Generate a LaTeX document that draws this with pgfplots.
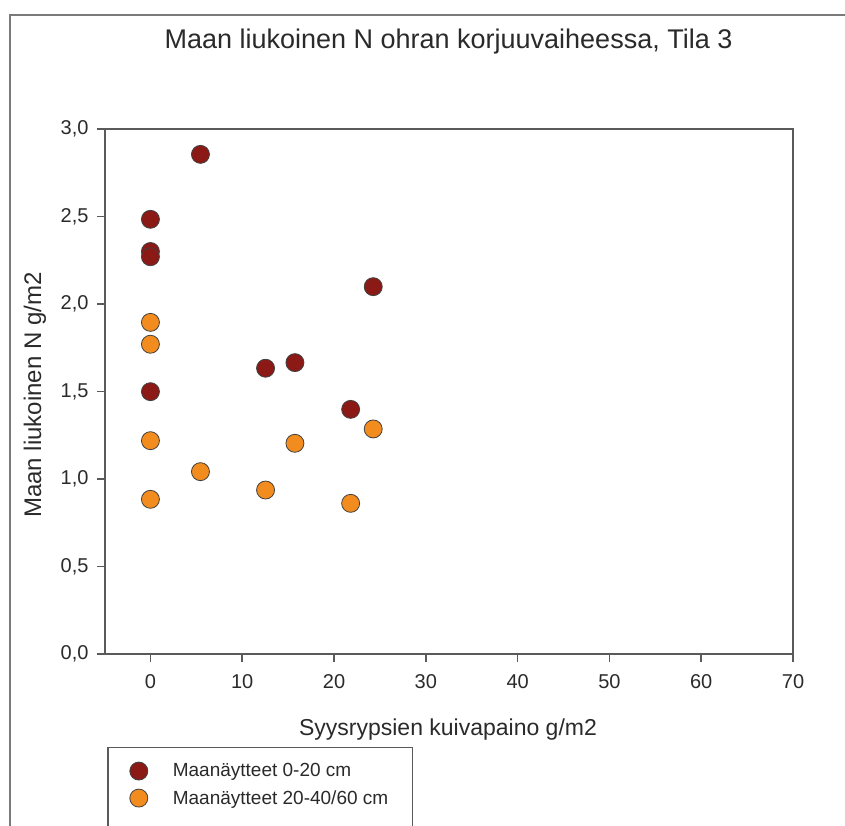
\documentclass[border=0pt]{standalone}
\usepackage{fontspec}
\setmainfont{Liberation Sans}
\usepackage{pgfplots}
\pgfplotsset{compat=1.18}
\definecolor{deepred}{HTML}{8B1A16}
\definecolor{amber}{HTML}{F28C1E}
\definecolor{framegray}{HTML}{7A7A7A}
\definecolor{axisgray}{HTML}{5A5A5A}
\definecolor{txt}{HTML}{2A2A2A}

\begin{document}
\begin{tikzpicture}
\useasboundingbox (0,0) rectangle (845pt,825pt);
% outer figure frame (top and left edges)
\draw[framegray, line width=2.5pt] (10pt,-10pt) -- (10pt,810pt) -- (860pt,810pt);
\begin{axis}[
  at={(105pt,171pt)}, anchor=south west,
  scale only axis, width=688pt, height=525pt,
  xmin=-4.95, xmax=70, ymin=0, ymax=3,
  xtick={0,10,...,70}, ytick={0,0.5,1,1.5,2,2.5,3},
  tick pos=left, tick align=outside,
  major tick length=8pt,
  axis line style={axisgray, line width=2pt},
  every tick/.style={axisgray, line width=1.5pt},
  /pgf/number format/assume math mode=true,
  tick label style={font=\fontsize{20}{24}\selectfont, text=txt},
  xticklabel style={yshift=-9pt},
  yticklabel style={xshift=-5pt,
    /pgf/number format/.cd, fixed, fixed zerofill, precision=1, use comma},
  legend cell align=left,
  legend style={at={(0.003,-0.177)}, anchor=north west,
    draw=axisgray, line width=1.5pt,
    font=\fontsize{19}{23}\selectfont, text=txt,
    inner xsep=22pt, inner ysep=14pt, row sep=8pt,
    /tikz/every odd column/.append style={column sep=23pt}},
]
% soil samples 0-20 cm
\addplot[only marks, mark=*, mark size=9pt,
  mark options={fill=deepred, draw=black!75, line width=0.8pt}]
  coordinates {
    (5.45,2.855) (0,2.484) (0,2.30) (0,2.27) (24.27,2.099)
    (12.54,1.633) (15.74,1.665) (0,1.499) (21.81,1.398)
  };
\addlegendentry{Maanäytteet 0-20 cm}
% soil samples 20-40/60 cm
\addplot[only marks, mark=*, mark size=9pt,
  mark options={fill=amber, draw=black!75, line width=0.8pt}]
  coordinates {
    (0,1.895) (0,1.770) (24.27,1.286) (0,1.219) (15.74,1.204)
    (5.45,1.042) (12.54,0.937) (0,0.884) (21.81,0.861)
  };
\addlegendentry{Maanäytteet 20-40/60 cm}
\addlegendimage{empty legend}
\addlegendentry{\rule{0pt}{30pt}}
\end{axis}
\node[font=\fontsize{27}{32}\selectfont, text=txt] at (448.5pt,783pt)
  {Maan liukoinen N ohran korjuuvaiheessa, Tila 3};
\node[font=\fontsize{23}{27}\selectfont, text=txt] at (448pt,95pt)
  {Syysrypsien kuivapaino g/m2};
\node[rotate=90, font=\fontsize{24}{28}\selectfont, text=txt] at (35pt,430pt)
  {Maan liukoinen N g/m2};
\end{tikzpicture}
\end{document}
